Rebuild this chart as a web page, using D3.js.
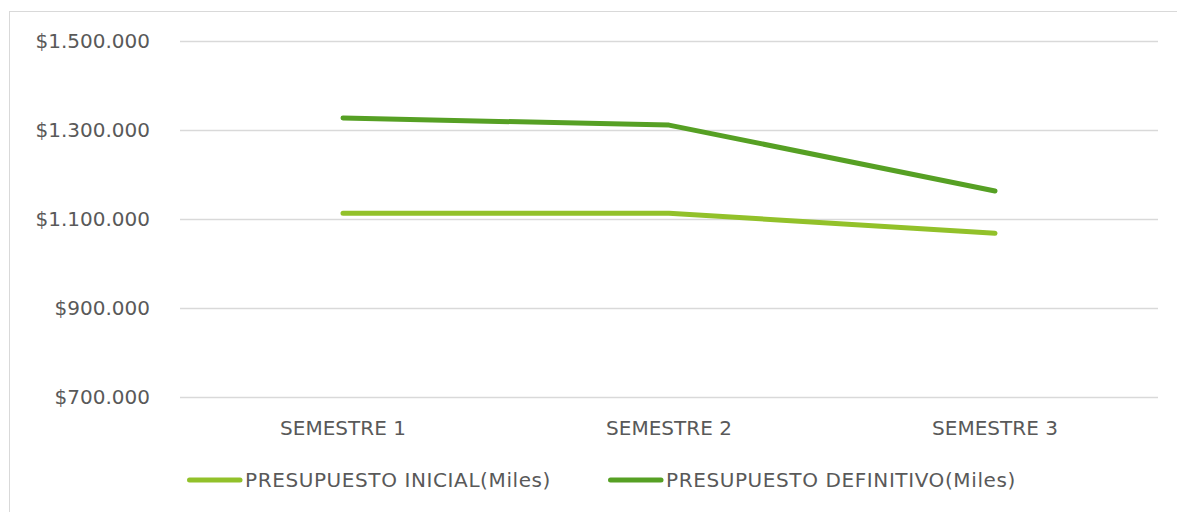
<!DOCTYPE html>
<html>
<head>
<meta charset="utf-8">
<script src="https://cdn.jsdelivr.net/npm/d3@7"></script>
<style>
  body { margin: 0; background: #fff; }
  text { font-family: "DejaVu Sans", sans-serif; fill: #595959; }
</style>
</head>
<body>
<div id="chart"></div>
<script>
const categories = ['SEMESTRE 1', 'SEMESTRE 2', 'SEMESTRE 3'];
const inicial = [1113000, 1113000, 1068000];
const definitivo = [1327000, 1311000, 1163000];
const yTicks = [700000, 900000, 1100000, 1300000, 1500000];
const seriesNames = ['PRESUPUESTO INICIAL(Miles)', 'PRESUPUESTO DEFINITIVO(Miles)'];
const colors = ['#92c12a', '#56a024'];

const width = 1177, height = 512;
const margin = { top: 41, right: 19, bottom: 115, left: 180 };
const chartWidth = width - margin.left - margin.right;
const chartHeight = height - margin.top - margin.bottom;

const svg = d3.select('#chart').append('svg')
  .attr('width', width)
  .attr('height', height);

// chart border
svg.append('rect')
  .attr('x', 9.5).attr('y', 11.5)
  .attr('width', width).attr('height', height)
  .attr('fill', 'none').attr('stroke', '#d9d9d9');

const g = svg.append('g').attr('transform', `translate(${margin.left}, ${margin.top})`);

const x = d3.scaleBand().domain(categories).range([0, chartWidth]);
const y = d3.scaleLinear().domain([700000, 1500000]).range([chartHeight, 0]);

const fmt = v => '$' + d3.format(',')(v).replace(/,/g, '.');

// gridlines
g.append('g').selectAll('line')
  .data(yTicks).enter().append('line')
  .attr('x1', 0).attr('x2', chartWidth)
  .attr('y1', d => Math.round(y(d)) + 0.5).attr('y2', d => Math.round(y(d)) + 0.5)
  .attr('stroke', '#d9d9d9').attr('stroke-width', 1.5);

// y labels
g.append('g').selectAll('text')
  .data(yTicks).enter().append('text')
  .attr('x', -30).attr('y', d => y(d))
  .attr('dy', '0.36em')
  .attr('text-anchor', 'end')
  .style('font-size', '20px')
  .text(fmt);

// x labels
g.append('g').selectAll('text')
  .data(categories).enter().append('text')
  .attr('x', d => x(d) + x.bandwidth() / 2)
  .attr('y', chartHeight + 31)
  .attr('dy', '0.36em')
  .attr('text-anchor', 'middle')
  .style('font-size', '20px')
  .text(d => d);

const line = d3.line()
  .x((d, i) => x(categories[i]) + x.bandwidth() / 2)
  .y(d => y(d));

[inicial, definitivo].forEach((s, i) => {
  g.append('path')
    .datum(s)
    .attr('d', line)
    .attr('fill', 'none')
    .attr('stroke', colors[i])
    .attr('stroke-width', 5)
    .attr('stroke-linecap', 'round')
    .attr('stroke-linejoin', 'round');
});

// legend
const legendX = [187, 608];
const legend = svg.append('g');
seriesNames.forEach((name, i) => {
  legend.append('line')
    .attr('x1', legendX[i] + 2.5).attr('x2', legendX[i] + 53)
    .attr('y1', 480).attr('y2', 480)
    .attr('stroke', colors[i]).attr('stroke-width', 5)
    .attr('stroke-linecap', 'round');
  legend.append('text')
    .attr('x', legendX[i] + 58).attr('y', 480)
    .attr('dy', '0.36em')
    .style('font-size', '20px')
    .style('letter-spacing', '0.6px')
    .text(name);
});
</script>
</body>
</html>
